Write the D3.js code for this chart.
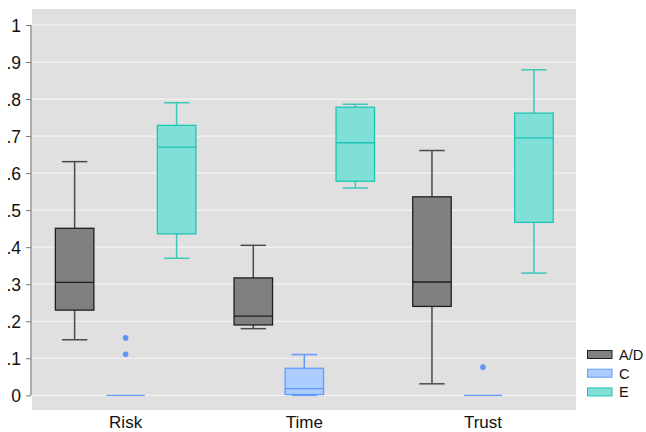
<!DOCTYPE html>
<html lang="en">
<head>
  <meta charset="UTF-8">
  <title>Box plot</title>
  <script src="https://cdn.jsdelivr.net/npm/d3@7"></script>
  <style>
    body { margin: 0; background: #fff; }
    text { font-family: "Liberation Sans", Arial, sans-serif; }
  </style>
</head>
<body>
<svg width="646" height="432"></svg>
<script>
  // categories and series
  var groups = ["Risk", "Time", "Trust"];
  var series = ["A/D", "C", "E"];
  // five-number summaries per group, [low, q1, median, q3, high]
  var statsAD = [[0.150, 0.230, 0.305, 0.451, 0.631], [0.180, 0.190, 0.214, 0.317, 0.405], [0.031, 0.240, 0.306, 0.536, 0.661]];
  var statsC = [[0, 0, 0, 0, 0], [0, 0.002, 0.018, 0.073, 0.110], [0, 0, 0, 0, 0]];
  var statsE = [[0.370, 0.436, 0.670, 0.729, 0.790], [0.560, 0.578, 0.682, 0.778, 0.786], [0.330, 0.467, 0.695, 0.762, 0.879]];
  var outliersC = [[0.155, 0.111], [], [0.076]];
  var yTicks = [0, 0.1, 0.2, 0.3, 0.4, 0.5, 0.6, 0.7, 0.8, 0.9, 1];

  var colors = {
    "A/D": { fill: "#808080", stroke: "#1e1e1e", whisker: "#4a4a4a" },
    "C": { fill: "#aaccff", stroke: "#6699ff", whisker: "#6699ff" },
    "E": { fill: "#80e0d8", stroke: "#1fc4b4", whisker: "#3cc8ba" }
  };
  var statsBySeries = { "A/D": statsAD, "C": statsC, "E": statsE };

  var svg = d3.select("svg");
  var plot = { left: 32, top: 9, right: 576, bottom: 410 };

  // background
  svg.append("rect")
    .attr("x", plot.left).attr("y", plot.top)
    .attr("width", plot.right - plot.left).attr("height", plot.bottom - plot.top)
    .attr("fill", "#e0e0e0");

  var y = d3.scaleLinear().domain([0, 1]).range([395.3, 25]);
  var x = d3.scaleBand().domain(groups).range([36.3, 572.3]);
  // offsets of each series within a group
  var inner = d3.scalePoint().domain(series).range([-51, 51]);
  var bw = 38.5;

  // grid lines
  svg.append("g").selectAll("line")
    .data(yTicks)
    .enter().append("line")
    .attr("x1", plot.left).attr("x2", plot.right)
    .attr("y1", function(d) { return y(d); })
    .attr("y2", function(d) { return y(d); })
    .attr("stroke", "#f4f4f4")
    .attr("stroke-width", 1.2);

  // y axis
  var yAxis = d3.axisLeft(y)
    .tickValues(yTicks)
    .tickSize(5)
    .tickFormat(function(d) {
      if (d === 0) return "0";
      if (d === 1) return "1";
      return d3.format(".1f")(d).replace(/^0/, "");
    });
  var ya = svg.append("g")
    .attr("transform", "translate(" + (plot.left - 1) + ",0)")
    .call(yAxis);
  ya.select(".domain").attr("stroke", "#777").attr("stroke-width", 1.2)
    .attr("d", "M0," + y(1) + "V" + y(0));
  ya.selectAll(".tick line").attr("stroke", "#777");
  ya.selectAll(".tick text")
    .attr("x", -10)
    .attr("dy", "0.36em")
    .style("font-size", "17.5px")
    .style("font-family", "Liberation Sans, Arial, sans-serif")
    .attr("fill", "#111");

  // x labels
  svg.append("g").selectAll("text")
    .data(groups)
    .enter().append("text")
    .attr("x", function(d) { return x(d) + x.bandwidth() / 2; })
    .attr("y", 428)
    .attr("text-anchor", "middle")
    .style("font-size", "17px")
    .attr("fill", "#111")
    .text(function(d) { return d; });

  // boxes
  series.forEach(function(s) {
    var c = colors[s];
    statsBySeries[s].forEach(function(st, gi) {
      var cx = x(groups[gi]) + x.bandwidth() / 2 + inner(s);
      var g = svg.append("g");
      var capW = bw * 0.66;
      if (st[4] > st[0]) {
        // whiskers
        g.append("line").attr("x1", cx).attr("x2", cx)
          .attr("y1", y(st[4])).attr("y2", y(st[3]))
          .attr("stroke", c.whisker).attr("stroke-width", 1.5);
        g.append("line").attr("x1", cx).attr("x2", cx)
          .attr("y1", y(st[1])).attr("y2", y(st[0]))
          .attr("stroke", c.whisker).attr("stroke-width", 1.5);
        g.append("line").attr("x1", cx - capW / 2).attr("x2", cx + capW / 2)
          .attr("y1", y(st[4])).attr("y2", y(st[4]))
          .attr("stroke", c.whisker).attr("stroke-width", 1.5);
        g.append("line").attr("x1", cx - capW / 2).attr("x2", cx + capW / 2)
          .attr("y1", y(st[0])).attr("y2", y(st[0]))
          .attr("stroke", c.whisker).attr("stroke-width", 1.5);
        // box
        g.append("rect")
          .attr("x", cx - bw / 2).attr("width", bw)
          .attr("y", y(st[3])).attr("height", y(st[1]) - y(st[3]))
          .attr("fill", c.fill).attr("stroke", c.stroke).attr("stroke-width", 1.3);
        // median
        g.append("line").attr("x1", cx - bw / 2).attr("x2", cx + bw / 2)
          .attr("y1", y(st[2])).attr("y2", y(st[2]))
          .attr("stroke", c.stroke).attr("stroke-width", 1.3);
      } else {
        // degenerate box: single line
        g.append("line").attr("x1", cx - bw / 2).attr("x2", cx + bw / 2)
          .attr("y1", y(st[2])).attr("y2", y(st[2]))
          .attr("stroke", c.stroke).attr("stroke-width", 1.3);
      }
      if (s === "C") {
        g.selectAll("circle")
          .data(outliersC[gi])
          .enter().append("circle")
          .attr("cx", cx).attr("cy", function(d) { return y(d); })
          .attr("r", 2.8)
          .attr("fill", "#5f95f5");
      }
    });
  });

  // legend
  var legend = svg.append("g").attr("transform", "translate(587,350)");
  series.forEach(function(s, i) {
    var row = legend.append("g").attr("transform", "translate(0," + (i * 18.7) + ")");
    row.append("rect")
      .attr("x", 0.5).attr("y", 0.5)
      .attr("width", 24.5).attr("height", 8)
      .attr("fill", colors[s].fill)
      .attr("stroke", colors[s].stroke).attr("stroke-width", 1);
    row.append("text")
      .attr("x", 32).attr("y", 9.8)
      .style("font-size", "14.5px")
      .attr("fill", "#111")
      .text(s);
  });
</script>
</body>
</html>
